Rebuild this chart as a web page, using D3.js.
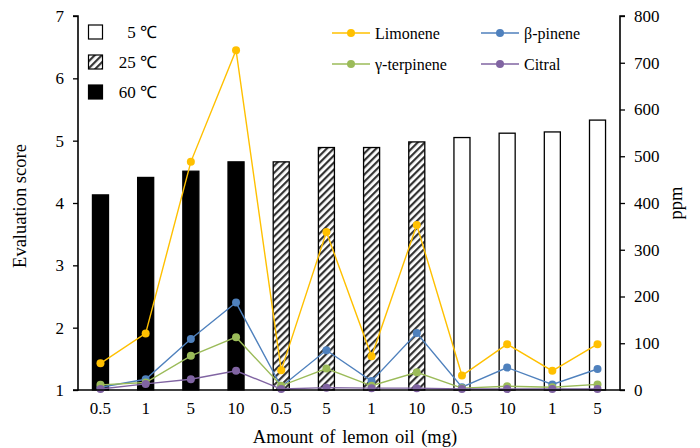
<!DOCTYPE html>
<html><head><meta charset="utf-8">
<script src="https://cdn.jsdelivr.net/npm/d3@7"></script>
<style>body{margin:0;background:#fff}svg{display:block}</style>
</head><body>
<script>
const categories = ["0.5","1","5","10","0.5","5","1","10","0.5","10","1","5"];
const temps = ["60","60","60","60","25","25","25","25","5","5","5","5"];
const scores = [4.13,4.41,4.51,4.66,4.66,4.89,4.89,4.98,5.05,5.12,5.14,5.33];
const limonene = [57,121,488,727,42,338,72,353,31,98,41,98];
const bPinene = [6,23,109,187,7,85,19,122,6,48,12,45];
const gTerpinene = [11,16,73,113,9,46,9,38,4,8,6,12];
const citral = [2,13,23,41,2,5,4,4,2,2,2,2];
const leftTicks = [1,2,3,4,5,6,7];
const rightTicks = [0,100,200,300,400,500,600,700,800];
const seriesNames = ["Limonene","β-pinene","γ-terpinene","Citral"];
const seriesColors = ["#FFC000","#4F81BD","#9BBB59","#8064A2"];
const tempLabels = ["5 ℃","25 ℃","60 ℃"];

const W=700,H=448, L=78, R=620, T=16, B=390;
const svg=d3.select("body").append("svg").attr("width",W).attr("height",H)
  .style("font-family","'Liberation Serif','Times New Roman',serif");
const defs=svg.append("defs");
const pat=defs.append("pattern").attr("id","hatch").attr("patternUnits","userSpaceOnUse")
  .attr("width",5).attr("height",5).attr("patternTransform","rotate(45)");
pat.append("rect").attr("width",5).attr("height",5).attr("fill","#fff");
pat.append("rect").attr("width",2.2).attr("height",5).attr("fill","#333");

const x=d3.scaleBand().domain(d3.range(categories.length)).range([L,R]).paddingInner(0.645).paddingOuter(0.32);
const yL=d3.scaleLinear().domain([1,7]).range([B,T]);
const yR=d3.scaleLinear().domain([0,800]).range([B,T]);
const fillFor=t=>t==="60"?"#000":(t==="25"?"url(#hatch)":"#fff");

svg.append("g").selectAll("rect").data(scores).join("rect")
  .attr("x",(d,i)=>x(i)).attr("width",x.bandwidth())
  .attr("y",d=>yL(d)).attr("height",d=>yL(1)-yL(d))
  .attr("fill",(d,i)=>fillFor(temps[i])).attr("stroke","#000").attr("stroke-width",1.3);

const cx=i=>x(i)+x.bandwidth()/2;
const allSeries=[limonene,bPinene,gTerpinene,citral];
allSeries.forEach((s,k)=>{
  const line=d3.line().x((d,i)=>cx(i)).y(d=>yR(d));
  svg.append("path").datum(s).attr("d",line).attr("fill","none").attr("stroke",seriesColors[k]).attr("stroke-width",1.4);
  svg.append("g").selectAll("circle").data(s).join("circle")
    .attr("cx",(d,i)=>cx(i)).attr("cy",d=>yR(d)).attr("r",4).attr("fill",seriesColors[k]);
});

// axes
const ga=svg.append("g").attr("transform",`translate(${L},0)`)
  .call(d3.axisLeft(yL).tickValues(leftTicks).tickSize(5).tickPadding(9).tickFormat(d3.format("d")));
const gr=svg.append("g").attr("transform",`translate(${R},0)`)
  .call(d3.axisRight(yR).tickValues(rightTicks).tickSize(5).tickPadding(9).tickFormat(d3.format("d")));
const gb=svg.append("g").attr("transform",`translate(0,${B})`)
  .call(d3.axisBottom(x).tickFormat(i=>categories[i]).tickSize(0).tickPadding(12));
[ga,gr,gb].forEach(g=>{
  g.select(".domain").attr("stroke","#000").attr("stroke-width",1.6);
  g.selectAll(".tick line").attr("stroke","#000").attr("stroke-width",1.3);
  g.selectAll("text").attr("font-family","'Liberation Serif','Times New Roman',serif").attr("font-size",17).attr("fill","#000");
});
gb.select(".domain").attr("d",`M${L},0H${R}`);
ga.select(".domain").attr("d",`M-5,${T}H0V${B}H-5`);
gr.select(".domain").attr("d",`M5,${T}H0V${B}H5`);

// axis titles
svg.append("text").attr("transform",`translate(26,206) rotate(-90)`).attr("text-anchor","middle")
  .attr("font-size",18.5).text("Evaluation score");
svg.append("text").attr("transform",`translate(682,${(T+B)/2}) rotate(-90)`).attr("text-anchor","middle")
  .attr("font-size",18.5).text("ppm");
svg.append("text").attr("x",355).attr("y",443).attr("text-anchor","middle")
  .attr("font-size",18.5).attr("word-spacing",2).text("Amount of lemon oil (mg)");

// temp legend
const tfills=["#fff","url(#hatch)","#000"];
tempLabels.forEach((t,i)=>{
  const yy=25+i*30;
  svg.append("rect").attr("x",88.5).attr("y",yy).attr("width",14).attr("height",14)
    .attr("fill",tfills[i]).attr("stroke","#000").attr("stroke-width",1.2);
  svg.append("text").attr("x",157).attr("y",yy+13).attr("text-anchor","end").attr("font-size",17).text(t);
});

// series legend
seriesNames.forEach((n,k)=>{
  const lx=332+(k%2)*149, ly=33+Math.floor(k/2)*31;
  svg.append("line").attr("x1",lx).attr("x2",lx+38).attr("y1",ly).attr("y2",ly).attr("stroke",seriesColors[k]).attr("stroke-width",1.4);
  svg.append("circle").attr("cx",lx+19).attr("cy",ly).attr("r",4).attr("fill",seriesColors[k]);
  svg.append("text").attr("x",lx+43).attr("y",ly+5.5).attr("font-size",16).text(n);
});
</script>
</body></html>
